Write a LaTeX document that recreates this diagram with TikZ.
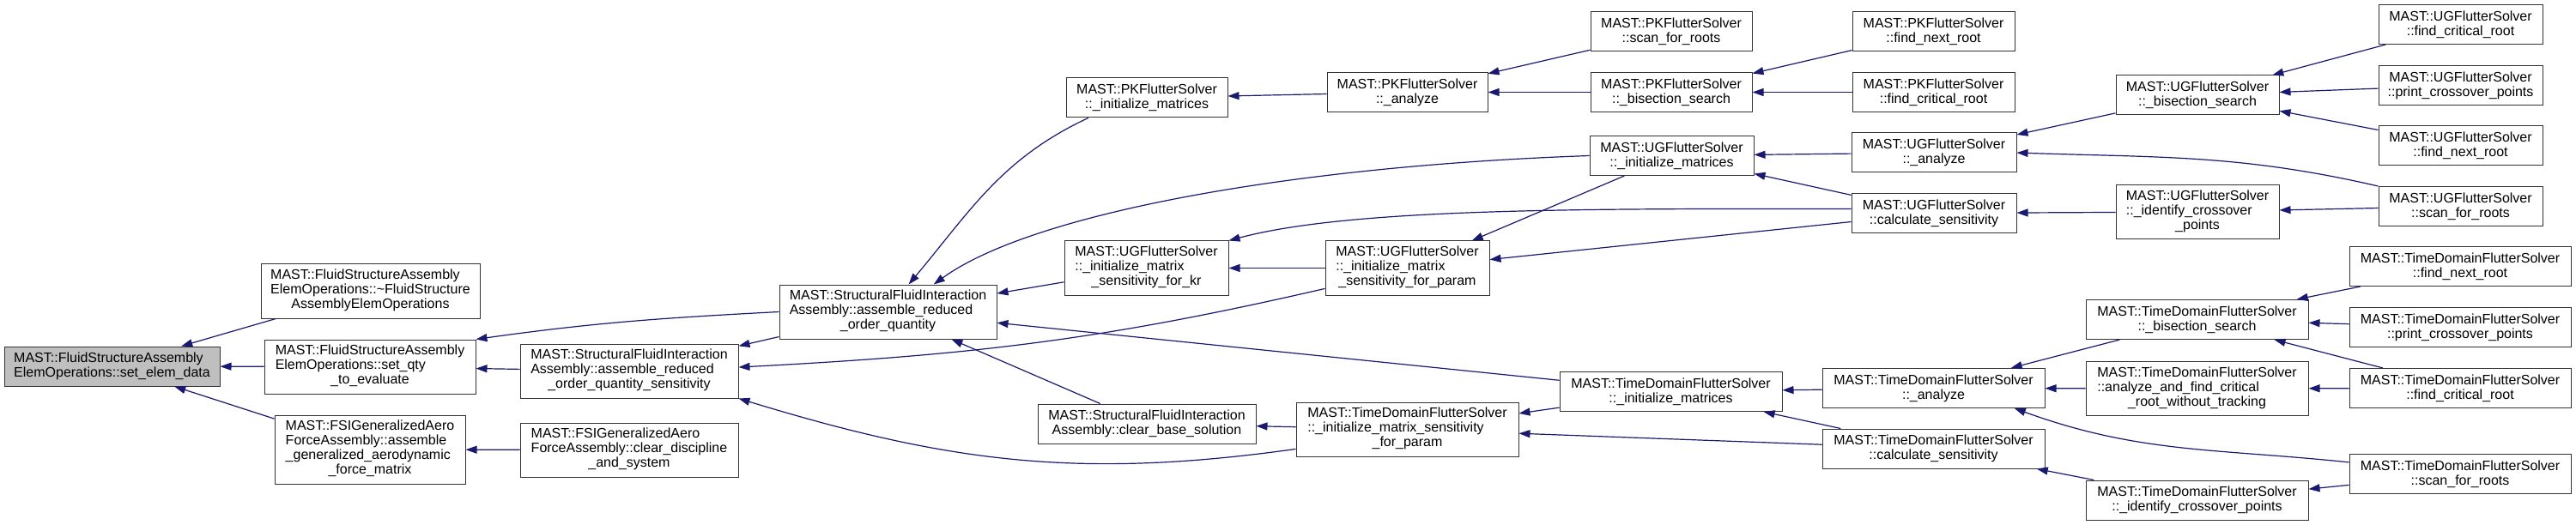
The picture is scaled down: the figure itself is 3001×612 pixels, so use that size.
\documentclass[tikz,border=0pt]{standalone}
\usepackage{fontspec}
\setmainfont{Liberation Sans}
\usetikzlibrary{arrows.meta}
\definecolor{edgeblue}{RGB}{25,25,112}
% wrapped label: left lines, last line centred
\newcommand{\wrapped}[2]{\begin{tabular}{@{}l@{}}#1\\\multicolumn{1}{@{}c@{}}{#2}\end{tabular}}

\begin{document}
\begin{tikzpicture}[
  x=1pt, y=1pt,
  box/.style={draw=black!80, line width=1pt, fill=white, inner sep=2pt, align=center, font=\fontsize{16}{17}\selectfont},
  rootbox/.style={box, fill=black!25},
  sz/.style 2 args={minimum width=#1pt, minimum height=#2pt},
  arr/.style={-{Triangle[length=13pt,width=9pt]}, draw=edgeblue, line width=1.2pt}
]
\useasboundingbox (0,0) rectangle (3001,-612);

% column 0
\node[rootbox, sz={251}{46}, align=left] (setelem) at (130.5,-427) {MAST::FluidStructureAssembly\\ElemOperations::set\_elem\_data};

% column 1
\node[box, sz={255}{63}] (dtor) at (431.5,-339.5) {\wrapped{MAST::FluidStructureAssembly\\ElemOperations::\textasciitilde FluidStructure}{AssemblyElemOperations}};
\node[box, sz={246}{63}] (setqty) at (431,-427.5) {\wrapped{MAST::FluidStructureAssembly\\ElemOperations::set\_qty}{\_to\_evaluate}};
\node[box, sz={222}{80}] (fsiasm) at (431,-524) {\wrapped{MAST::FSIGeneralizedAero\\ForceAssembly::assemble\\\_generalized\_aerodynamic}{\_force\_matrix}};

% column 2
\node[box, sz={254}{63}] (roqsens) at (733,-432.5) {\wrapped{MAST::StructuralFluidInteraction\\Assembly::assemble\_reduced}{\_order\_quantity\_sensitivity}};
\node[box, sz={254}{63}] (fsiclear) at (733,-524.5) {\wrapped{MAST::FSIGeneralizedAero\\ForceAssembly::clear\_discipline}{\_and\_system}};

% column 3
\node[box, sz={253}{63}] (roq) at (1034.5,-363.5) {\wrapped{MAST::StructuralFluidInteraction\\Assembly::assemble\_reduced}{\_order\_quantity}};

% column 4
\node[box, sz={188}{46}] (pkinit) at (1336,-114) {MAST::PKFlutterSolver\\::\_initialize\_matrices};
\node[box, sz={191}{63}] (ugkr) at (1335.5,-312.5) {\wrapped{MAST::UGFlutterSolver\\::\_initialize\_matrix}{\_sensitivity\_for\_kr}};
\node[box, sz={254}{46}] (clearbase) at (1336,-494) {MAST::StructuralFluidInteraction\\Assembly::clear\_base\_solution};

% column 5
\node[box, sz={187}{46}] (pkanalyze) at (1639.5,-107.5) {MAST::PKFlutterSolver\\::\_analyze};
\node[box, sz={191}{63}] (ugparam) at (1639.5,-312.5) {\wrapped{MAST::UGFlutterSolver\\::\_initialize\_matrix}{\_sensitivity\_for\_param}};
\node[box, sz={259}{63}] (tdparam) at (1639.5,-500.5) {\wrapped{MAST::TimeDomainFlutterSolver\\::\_initialize\_matrix\_sensitivity}{\_for\_param}};

% column 6
\node[box, sz={188}{46}] (pkscan) at (1947,-36.5) {MAST::PKFlutterSolver\\::scan\_for\_roots};
\node[box, sz={188}{46}] (pkbisect) at (1947,-107.5) {MAST::PKFlutterSolver\\::\_bisection\_search};
\node[box, sz={191}{46}] (uginit) at (1947.5,-181.5) {MAST::UGFlutterSolver\\::\_initialize\_matrices};
\node[box, sz={259}{46}] (tdinit) at (1946.5,-456.5) {MAST::TimeDomainFlutterSolver\\::\_initialize\_matrices};

% column 7
\node[box, sz={189}{46}] (pkfindnext) at (2252.5,-36.5) {MAST::PKFlutterSolver\\::find\_next\_root};
\node[box, sz={189}{46}] (pkfindcrit) at (2252.5,-107.5) {MAST::PKFlutterSolver\\::find\_critical\_root};
\node[box, sz={192}{46}] (uganalyze) at (2253,-178) {MAST::UGFlutterSolver\\::\_analyze};
\node[box, sz={192}{46}] (ugcalc) at (2253,-248.5) {MAST::UGFlutterSolver\\::calculate\_sensitivity};
\node[box, sz={259}{46}] (tdanalyze) at (2252.5,-452.5) {MAST::TimeDomainFlutterSolver\\::\_analyze};
\node[box, sz={259}{46}] (tdcalc) at (2252.5,-523) {MAST::TimeDomainFlutterSolver\\::calculate\_sensitivity};

% column 8
\node[box, sz={190}{46}] (ugbisect) at (2560,-111) {MAST::UGFlutterSolver\\::\_bisection\_search};
\node[box, sz={190}{63}] (ugident) at (2560,-247) {\wrapped{MAST::UGFlutterSolver\\::\_identify\_crossover}{\_points}};
\node[box, sz={259}{46}] (tdbisect) at (2559.5,-372.5) {MAST::TimeDomainFlutterSolver\\::\_bisection\_search};
\node[box, sz={259}{63}] (tdafc) at (2559.5,-453) {\wrapped{MAST::TimeDomainFlutterSolver\\::analyze\_and\_find\_critical}{\_root\_without\_tracking}};
\node[box, sz={259}{46}] (tdident) at (2559.5,-583) {MAST::TimeDomainFlutterSolver\\::\_identify\_crossover\_points};

% column 9
\node[box, sz={191}{46}] (ugfindcrit) at (2866.5,-28.5) {MAST::UGFlutterSolver\\::find\_critical\_root};
\node[box, sz={191}{46}] (ugprint) at (2866.5,-99.5) {MAST::UGFlutterSolver\\::print\_crossover\_points};
\node[box, sz={191}{46}] (ugfindnext) at (2866.5,-170) {MAST::UGFlutterSolver\\::find\_next\_root};
\node[box, sz={191}{46}] (ugscan) at (2866.5,-240.5) {MAST::UGFlutterSolver\\::scan\_for\_roots};
\node[box, sz={258}{46}] (tdfindnext) at (2866,-310.5) {MAST::TimeDomainFlutterSolver\\::find\_next\_root};
\node[box, sz={258}{46}] (tdprint) at (2866,-381.5) {MAST::TimeDomainFlutterSolver\\::print\_crossover\_points};
\node[box, sz={258}{46}] (tdfindcrit) at (2866,-452.5) {MAST::TimeDomainFlutterSolver\\::find\_critical\_root};
\node[box, sz={258}{46}] (tdscan) at (2866,-552.5) {MAST::TimeDomainFlutterSolver\\::scan\_for\_roots};

% callers -> callees
\draw[arr] (dtor) -- (setelem);
\draw[arr] (setqty) -- (setelem);
\draw[arr] (fsiasm) -- (setelem);
\draw[arr] (roq.west) to[out=183, in=8] (setqty.north east);
\draw[arr] (roqsens) -- (setqty);
\draw[arr] (fsiclear) -- (fsiasm);
\draw[arr] (roq) -- (roqsens);
\draw[arr] (pkinit.199) to[out=205, in=50] (roq.53);
\draw[arr] (uginit.west) to[out=182, in=36, out distance=350pt, in distance=140pt] (roq.31);
\draw[arr] (ugkr) -- (roq);
\draw[arr] (tdinit) -- (roq);
\draw[arr] (clearbase) -- (roq);
\draw[arr] (ugparam.194) to[out=193, in=3] (roqsens.2);
\draw[arr] (tdparam.190) to[out=188, in=-17] (roqsens.south east);
\draw[arr] (pkanalyze) -- (pkinit);
\draw[arr] (ugparam) -- (ugkr);
\draw[arr] (uginit) -- (ugparam);
\draw[arr] (ugcalc.177) to[out=180, in=15, out distance=300pt, in distance=150pt] (ugkr.north east);
\draw[arr] (ugcalc) -- (ugparam);
\draw[arr] (tdparam) -- (clearbase);
\draw[arr] (tdinit) -- (tdparam);
\draw[arr] (tdcalc) -- (tdparam);
\draw[arr] (pkscan) -- (pkanalyze);
\draw[arr] (pkbisect) -- (pkanalyze);
\draw[arr] (pkfindnext) -- (pkbisect);
\draw[arr] (pkfindcrit) -- (pkbisect);
\draw[arr] (uganalyze) -- (uginit);
\draw[arr] (ugcalc) -- (uginit);
\draw[arr] (tdanalyze) -- (tdinit);
\draw[arr] (tdcalc) -- (tdinit);
\draw[arr] (ugbisect) -- (uganalyze);
\draw[arr] (ugscan.north west) to[out=167, in=-2] (uganalyze.east);
\draw[arr] (ugident) -- (ugcalc);
\draw[arr] (ugfindcrit) -- (ugbisect);
\draw[arr] (ugprint) -- (ugbisect);
\draw[arr] (ugfindnext) -- (ugbisect);
\draw[arr] (ugscan) -- (ugident);
\draw[arr] (tdbisect) -- (tdanalyze);
\draw[arr] (tdafc) -- (tdanalyze);
\draw[arr] (tdscan.174) to[out=174, in=-20] (tdanalyze.-14);
\draw[arr] (tdident) -- (tdcalc);
\draw[arr] (tdfindnext) -- (tdbisect);
\draw[arr] (tdprint) -- (tdbisect);
\draw[arr] (tdfindcrit) -- (tdbisect);
\draw[arr] (tdfindcrit) -- (tdafc);
\draw[arr] (tdscan) -- (tdident);

\end{tikzpicture}
\end{document}
